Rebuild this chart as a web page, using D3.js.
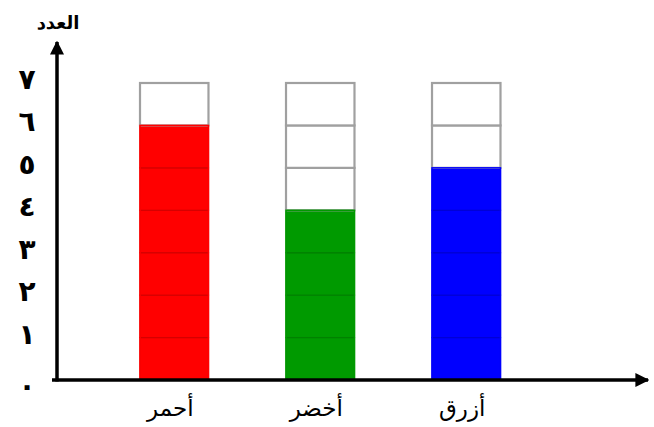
<!DOCTYPE html>
<html><head><meta charset="utf-8">
<script src="https://cdn.jsdelivr.net/npm/d3@7"></script>
<style>html,body{margin:0;padding:0;background:#fff;}svg{display:block;}</style>
</head><body>
<script>
const categories = ["أحمر", "أخضر", "أزرق"];
const values = [6, 4, 5];
const colors = ["#ff0000", "#009a00", "#0000ff"];
const tickLabels = ["٠","١","٢","٣","٤","٥","٦","٧"];
const yTitle = "العدد";
const maxCells = 7;

const W = 654, H = 427;
const svg = d3.select("body").append("svg").attr("width", W).attr("height", H);

const x = d3.scaleBand().domain(categories).range([67, 573.5]).paddingInner(0.531).paddingOuter(0.5);
const y = d3.scaleLinear().domain([0, maxCells]).range([380, 83]);

categories.forEach((c, i) => {
  const g = svg.append("g");
  const cells = d3.range(maxCells);
  g.selectAll("rect.cell").data(cells).join("rect")
    .attr("x", x(c)).attr("width", x.bandwidth())
    .attr("y", k => y(k + 1)).attr("height", k => y(k) - y(k + 1))
    .attr("fill", k => k < values[i] ? colors[i] : "#fff")
    .attr("stroke", k => k < values[i] ? d3.color(colors[i]).darker(0.5) : "#a0a0a0")
    .attr("stroke-width", k => k < values[i] ? 1.2 : 2.2);
  g.append("rect")
    .attr("x", x(c)).attr("width", x.bandwidth())
    .attr("y", y(values[i])).attr("height", y(0) - y(values[i]))
    .attr("fill", "none").attr("stroke", colors[i]).attr("stroke-width", 1.5);
});

const defs = svg.append("defs");
defs.append("marker").attr("id", "arr").attr("viewBox", "0 0 10 10")
  .attr("refX", 9).attr("refY", 5).attr("markerWidth", 4).attr("markerHeight", 4)
  .attr("orient", "auto").append("path").attr("d", "M0,0L10,5L0,10Z").attr("fill", "#000");

svg.append("line").attr("x1", 52).attr("x2", 648).attr("y1", y(0)).attr("y2", y(0))
  .attr("stroke", "#000").attr("stroke-width", 3.5).attr("marker-end", "url(#arr)");
svg.append("line").attr("x1", 57).attr("x2", 57).attr("y1", y(0) + 1.5).attr("y2", 42)
  .attr("stroke", "#000").attr("stroke-width", 3.5).attr("marker-end", "url(#arr)");

svg.selectAll("text.yt").data(tickLabels).join("text")
  .attr("class", "yt")
  .attr("x", 27).attr("y", (d, i) => i === 0 ? y(0) + 7 : y(i) - 2)
  .attr("text-anchor", "middle").attr("dominant-baseline", "middle")
  .attr("font-family", "DejaVu Sans, sans-serif").attr("font-weight", "bold")
  .attr("font-size", 28).text(d => d);

svg.append("text").attr("x", 58).attr("y", 29).attr("text-anchor", "middle")
  .attr("font-family", "DejaVu Sans, sans-serif").attr("font-weight", "bold")
  .attr("font-size", 18).attr("direction", "rtl").text(yTitle);

svg.selectAll("text.xl").data(categories).join("text")
  .attr("class", "xl")
  .attr("x", d => x(d) + x.bandwidth() / 2 - 4).attr("y", 416)
  .attr("text-anchor", "middle")
  .attr("font-family", "DejaVu Sans, sans-serif")
  .attr("font-size", 23).attr("direction", "rtl").text(d => d);
</script>
</body></html>
